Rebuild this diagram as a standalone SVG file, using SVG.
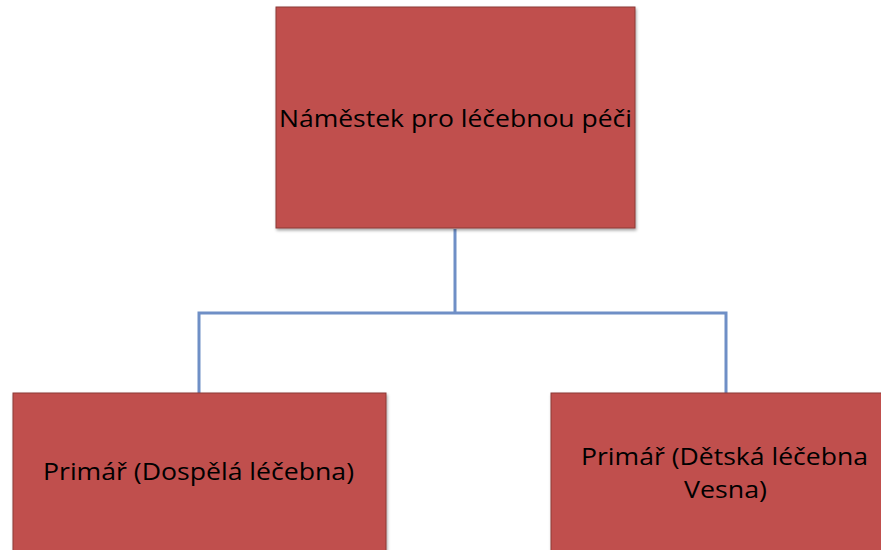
<svg xmlns="http://www.w3.org/2000/svg" width="881" height="550" viewBox="0 0 881 550">
<style>
.box{fill:#C0504D;stroke:#8C3836;stroke-width:1}
.t{font-family:"Open Sans","Liberation Sans",sans-serif;font-size:24px;fill:#000;text-anchor:middle}
.c{fill:none;stroke:#6F8FC6;stroke-width:3}
</style>
<defs>
<filter id="sh" x="-5%" y="-5%" width="110%" height="110%">
<feDropShadow dx="1" dy="2" stdDeviation="1.5" flood-color="#000" flood-opacity="0.35"/>
</filter>
</defs>
<rect width="881" height="550" fill="#fff"/>
<g id="connectors">
<path class="c" d="M455 229 V313 M199 313 H726 M199 311.5 V393 M726 311.5 V393"/>
</g>
<g id="n1">
<rect class="box" x="276" y="7" width="359" height="221" filter="url(#sh)"/>
<text class="t" x="455.5" y="127" textLength="353" lengthAdjust="spacingAndGlyphs">Náměstek pro léčebnou péči</text>
</g>
<g id="n2">
<rect class="box" x="13" y="393" width="373" height="165" filter="url(#sh)"/>
<text class="t" x="198.5" y="480" textLength="311" lengthAdjust="spacingAndGlyphs">Primář (Dospělá léčebna)</text>
</g>
<g id="n3">
<rect class="box" x="551" y="393" width="340" height="165" filter="url(#sh)"/>
<text class="t" x="724.5" y="465" textLength="287" lengthAdjust="spacingAndGlyphs">Primář (Dětská léčebna</text>
<text class="t" x="725.5" y="498" textLength="83" lengthAdjust="spacingAndGlyphs">Vesna)</text>
</g>
</svg>
